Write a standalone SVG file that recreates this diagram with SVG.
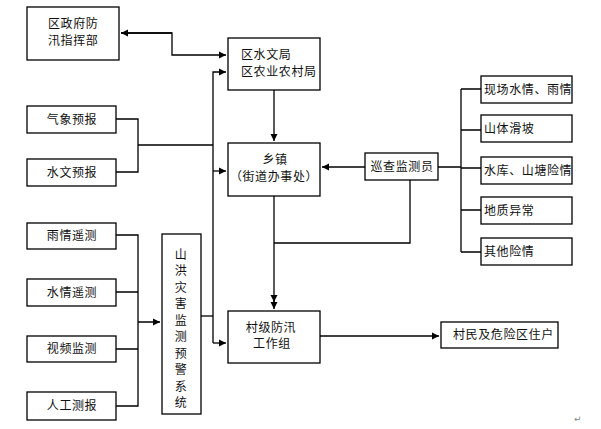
<svg xmlns="http://www.w3.org/2000/svg" width="601" height="429" viewBox="0 0 601 429">
<style>
.b{fill:#fff;stroke:#000;stroke-width:1.3}
.t{font-family:"Noto Sans CJK SC","Noto Sans CJK JP",sans-serif;font-size:12px;fill:#111;letter-spacing:0.6px}
.c{text-anchor:middle}
.l{fill:none;stroke:#000;stroke-width:1.3}
</style>
<defs>
<marker id="a" markerWidth="8" markerHeight="8" refX="7" refY="4" orient="auto" markerUnits="userSpaceOnUse">
<path d="M0,0.5 L7,4 L0,7.5 Z" fill="#000"/>
</marker>
</defs>
<rect width="601" height="429" fill="#fff"/>
<g id="connectors">
<path class="l" d="M121,33 H172 V55 H226" marker-end="url(#a)"/>
<path class="l" d="M172,33 H121" marker-end="url(#a)"/>
<path class="l" d="M116,119 H138 V172 H116 M138,145 H213"/>
<path class="l" d="M213,343 V72 H226" marker-end="url(#a)"/>
<path class="l" d="M213,171 H226" marker-end="url(#a)"/>
<path class="l" d="M213,343 H226" marker-end="url(#a)"/>
<path class="l" d="M274,90 V141" marker-end="url(#a)"/>
<path class="l" d="M365,167 H322" marker-end="url(#a)"/>
<path class="l" d="M438,167 H461 M461,89 V252 M461,89 H481 M461,130 H481 M461,168 H481 M461,210 H481 M461,252 H481"/>
<path class="l" d="M410,180 V243 H274"/>
<path class="l" d="M274,196 V302" marker-end="url(#a)"/>
<path class="l" d="M274,300 V309" marker-end="url(#a)"/>
<path class="l" d="M320,336 H439" marker-end="url(#a)"/>
<path class="l" d="M116,235 H138 V406 H116 M116,292 H138 M116,349 H138 M138,322 H160" marker-end="url(#a)"/>
<path class="l" d="M201,316 H213"/>
</g>
<g id="n_zhengfu"><rect class="b" x="27" y="7" width="92" height="53"/><text class="t" x="48" y="28">区政府防</text><text class="t" x="48" y="45">汛指挥部</text></g>
<g id="n_shuiwen"><rect class="b" x="228" y="38" width="92" height="52"/><text class="t" x="241" y="59">区水文局</text><text class="t" x="241" y="76">区农业农村局</text></g>
<g id="n_qixiang"><rect class="b" x="27" y="106" width="89" height="27"/><text class="t c" x="72" y="124">气象预报</text></g>
<g id="n_shuiwenyb"><rect class="b" x="27" y="159" width="89" height="27"/><text class="t c" x="72" y="177">水文预报</text></g>
<g id="n_xiangzhen"><rect class="b" x="228" y="143" width="92" height="53"/><text class="t c" x="275" y="164">乡镇</text><text class="t c" x="274" y="181">（街道办事处）</text></g>
<g id="n_xuncha"><rect class="b" x="365" y="153" width="73" height="27"/><text class="t c" x="402" y="171">巡查监测员</text></g>
<g id="n_r1"><rect class="b" x="481" y="76" width="91" height="27"/><text class="t" x="484" y="94">现场水情、雨情</text></g>
<g id="n_r2"><rect class="b" x="481" y="115" width="91" height="27"/><text class="t" x="484" y="133">山体滑坡</text></g>
<g id="n_r3"><rect class="b" x="481" y="157" width="91" height="27"/><text class="t" x="484" y="175">水库、山塘险情</text></g>
<g id="n_r4"><rect class="b" x="481" y="197" width="91" height="27"/><text class="t" x="484" y="215">地质异常</text></g>
<g id="n_r5"><rect class="b" x="481" y="238" width="91" height="27"/><text class="t" x="484" y="256">其他险情</text></g>
<g id="n_yuqing"><rect class="b" x="27" y="223" width="89" height="26"/><text class="t c" x="72" y="240">雨情遥测</text></g>
<g id="n_shuiqing"><rect class="b" x="27" y="279" width="89" height="27"/><text class="t c" x="72" y="297">水情遥测</text></g>
<g id="n_shipin"><rect class="b" x="27" y="336" width="89" height="26"/><text class="t c" x="72" y="353">视频监测</text></g>
<g id="n_rengong"><rect class="b" x="27" y="392" width="89" height="28"/><text class="t c" x="72" y="410">人工测报</text></g>
<g id="n_shanhong"><rect class="b" x="162" y="234" width="39" height="180"/>
<text class="t c" x="181" y="259">山</text><text class="t c" x="181" y="275">洪</text><text class="t c" x="181" y="292">灾</text><text class="t c" x="181" y="308">害</text><text class="t c" x="181" y="325">监</text><text class="t c" x="181" y="341">测</text><text class="t c" x="181" y="358">预</text><text class="t c" x="181" y="374">警</text><text class="t c" x="181" y="391">系</text><text class="t c" x="181" y="407">统</text></g>
<g id="n_cunji"><rect class="b" x="228" y="311" width="92" height="52"/><text class="t c" x="271" y="332">村级防汛</text><text class="t c" x="272" y="348">工作组</text></g>
<g id="n_cunmin"><rect class="b" x="441" y="322" width="117" height="26"/><text class="t" x="453" y="339">村民及危险区住户</text></g>
<text x="574" y="422" style="font-family:'DejaVu Sans',sans-serif;font-size:9px;fill:#888">↵</text>
</svg>
